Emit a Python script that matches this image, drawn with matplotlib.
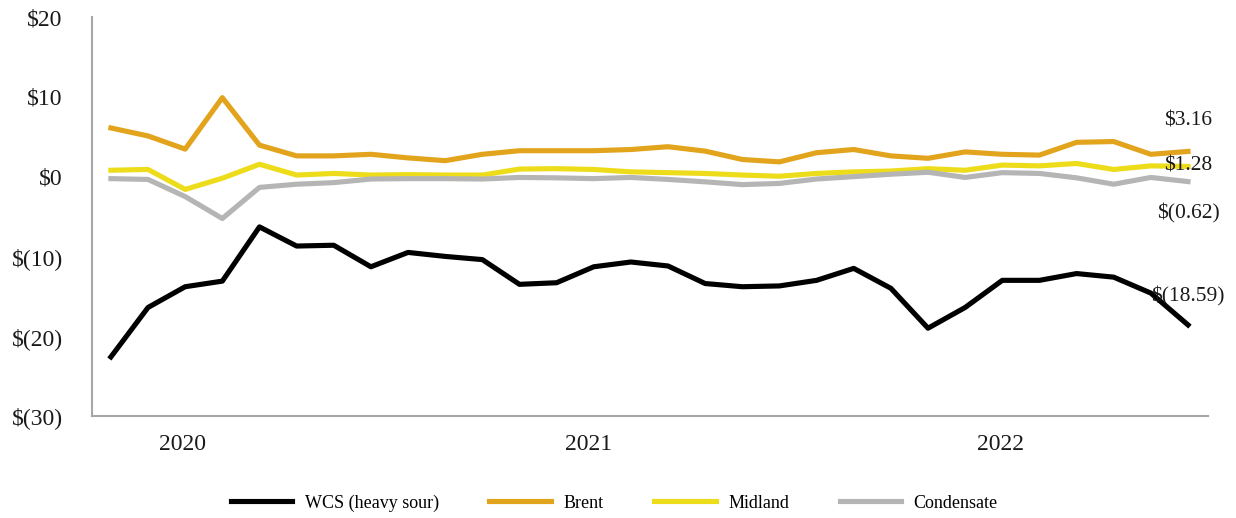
import matplotlib.pyplot as plt
import numpy as np

plt.rcParams['font.family'] = ['Liberation Serif', 'DejaVu Serif']

# Differentiels mensuels ($/bbl)
wcs = [-22.6, -16.4, -13.8, -13.1, -6.3, -8.7, -8.6, -11.3, -9.5, -10.0,
       -10.4, -13.5, -13.3, -11.3, -10.7, -11.2, -13.4, -13.8, -13.7, -13.0,
       -11.5, -14.0, -19.0, -16.4, -13.0, -13.0, -12.15, -12.6, -14.6, -18.59]
brent = [6.1, 5.1, 3.45, 9.9, 3.95, 2.6, 2.6, 2.8, 2.35, 2.0,
         2.8, 3.25, 3.25, 3.25, 3.4, 3.75, 3.2, 2.15, 1.85, 3.0,
         3.4, 2.6, 2.3, 3.1, 2.8, 2.7, 4.3, 4.4, 2.8, 3.16]
midland = [0.8, 0.9, -1.6, -0.2, 1.55, 0.2, 0.4, 0.2, 0.25, 0.2,
           0.2, 0.95, 1.0, 0.9, 0.6, 0.5, 0.4, 0.2, 0.05, 0.4,
           0.6, 0.7, 1.0, 0.8, 1.45, 1.35, 1.65, 0.9, 1.35, 1.28]
condensate = [-0.25, -0.35, -2.5, -5.25, -1.35, -0.95, -0.75, -0.3, -0.25, -0.25,
              -0.3, -0.1, -0.15, -0.25, -0.1, -0.35, -0.65, -1.0, -0.85, -0.3,
              0.0, 0.3, 0.55, -0.1, 0.5, 0.4, -0.15, -0.95, -0.1, -0.62]

years = ["2020", "2021", "2022"]
year_pos = [1.93, 12.87, 23.94]
y_ticks = [20, 10, 0, -10, -20, -30]
y_labels = ["$20", "$10", "$0", "$(10)", "$(20)", "$(30)"]

series = [
    ("WCS (heavy sour)", wcs, "#000000", 20.5),
    ("Brent", brent, "#E2A41C", 22.0),
    ("Midland", midland, "#EDDC1A", 0.0),
    ("Condensate", condensate, "#B5B5B5", -23.0),
]

fig = plt.figure(figsize=(12.36, 5.18), dpi=100)
ax = fig.add_axes([0.0744, 0.197, 0.903, 0.770])

x = np.arange(len(wcs))
for name, vals, col, dy in series:
    ax.plot(x, vals, color=col, lw=3.7, label=name)
    # etiquette de la derniere valeur
    v = vals[-1]
    txt = "$%.2f" % v if v >= 0 else "$(%.2f)" % abs(v)
    ax.annotate(txt, (x[-1], v), xytext=(0, dy), textcoords="offset points",
                ha="center", va="center", fontsize=15.5, color="#1a1a1a")

ax.set_xlim(-0.51, 29.54)
ax.set_ylim(-30, 20)
ax.set_yticks(y_ticks, y_labels)
ax.set_xticks(year_pos, years)
ax.tick_params(length=0, labelsize=17, colors="#1a1a1a")
ax.tick_params(axis="y", pad=21)
ax.tick_params(axis="x", pad=13)

for s in ["top", "right"]:
    ax.spines[s].set_visible(False)
for s in ["left", "bottom"]:
    ax.spines[s].set_color("#A6A6A6")
    ax.spines[s].set_linewidth(1.5)

fig.legend(loc="center", bbox_to_anchor=(0.497, 0.029), ncol=4, frameon=False,
           fontsize=13, handlelength=3.4, handletextpad=0.7, columnspacing=2.8)

fig.savefig("out.png", dpi=100)
